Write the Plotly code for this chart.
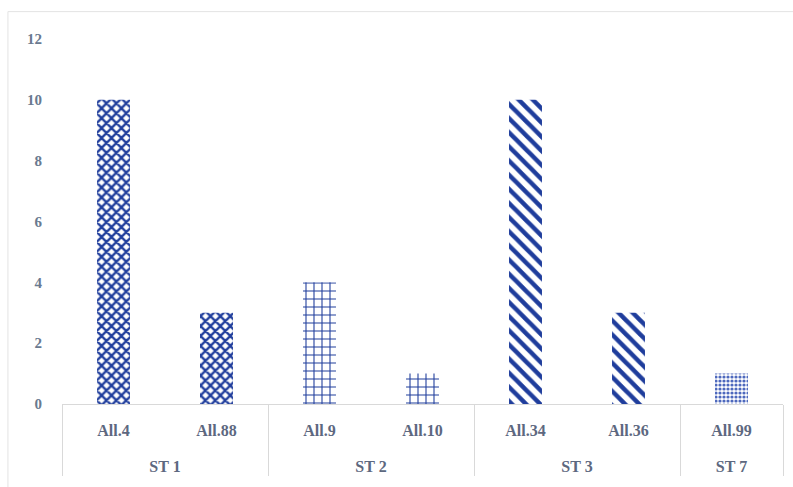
import plotly.graph_objects as go

groups = ["ST 1", "ST 1", "ST 2", "ST 2", "ST 3", "ST 3", "ST 7"]
alleles = ["All.4", "All.88", "All.9", "All.10", "All.34", "All.36", "All.99"]
values = [10, 3, 4, 1, 10, 3, 1]
y_ticks = [0, 2, 4, 6, 8, 10, 12]

blue = "#1f3d9c"
pat_shapes = ["x", "x", "+", "+", "\\", "\\", "."]
pat_sizes = [7, 7, 8, 8, 10, 10, 4]
pat_solid = [0.55, 0.55, 0.25, 0.25, 0.45, 0.45, 0.5]
pat_fg = [blue, blue, blue, blue, blue, blue, "#4d68bd"]

group_text = ["<br><span style='baseline-shift:-8px'>" + g + "</span>" for g in groups]

fig = go.Figure()
fig.add_trace(go.Bar(
    x=[group_text, alleles],
    y=values,
    width=0.32,
    marker=dict(
        color="white",
        line=dict(width=0),
        pattern=dict(shape=pat_shapes, size=pat_sizes, solidity=pat_solid,
                     fgcolor=pat_fg, fgopacity=1, bgcolor="white", fillmode="replace"),
    ),
    showlegend=False,
))

label_font = dict(family="Liberation Serif, Times New Roman, serif", size=16,
                  color="#5d6880", weight="bold")

fig.update_layout(
    width=793, height=487,
    margin=dict(l=62, r=10, t=39, b=83),
    paper_bgcolor="white", plot_bgcolor="white",
    xaxis=dict(
        type="multicategory",
        showline=True, linecolor="#d9d9d9", linewidth=1,
        showdividers=True, dividercolor="#d9d9d9", dividerwidth=1,
        tickfont=label_font,
        ticklabelstandoff=12,
        showgrid=False, zeroline=False,
    ),
    yaxis=dict(
        range=[0, 12], tickvals=y_ticks,
        showgrid=False, zeroline=False, showline=False,
        tickfont=dict(family="Liberation Serif, Times New Roman, serif", size=15,
                      color="#6a7a90", weight="bold"),
        ticklabelstandoff=19,
    ),
    shapes=[dict(type="rect", xref="paper", yref="paper",
                 x0=-0.075, x1=1.02, y0=-0.3, y1=1.075,
                 line=dict(color="#e3e3e3", width=1), fillcolor="rgba(0,0,0,0)", layer="below")],
)

fig.write_html("out.html")
